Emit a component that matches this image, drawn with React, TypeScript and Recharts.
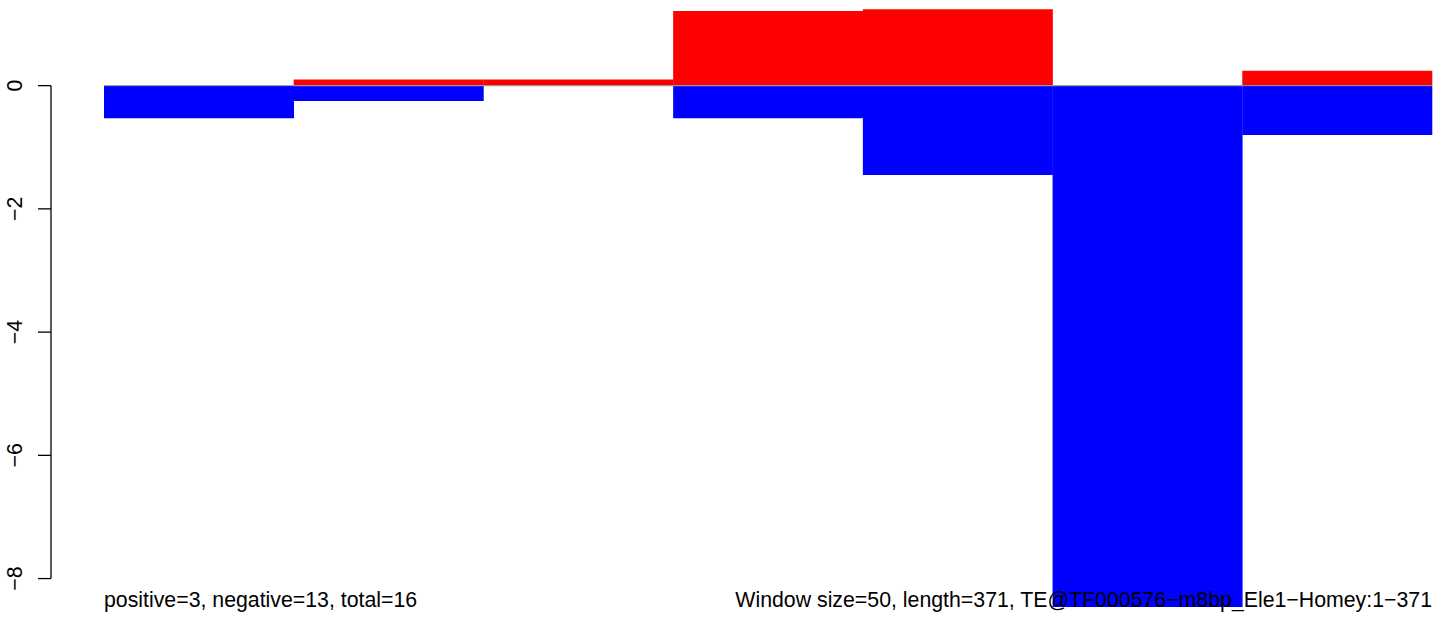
import { BarChart, Bar, XAxis, YAxis, ReferenceLine } from 'recharts';

const categories = ['1', '2', '3', '4', '5', '6', '7'];
const positive = [0, 0.1, 0.1, 1.21, 1.24, 0, 0.24];
const negative = [-0.53, -0.25, 0, -0.53, -1.45, -8.46, -0.8];
const yTicks = [-8, -6, -4, -2, 0];

const leftNote = 'positive=3, negative=13, total=16';
const rightNote = 'Window size=50, length=371, TE@TF000576\u2212m8bp_Ele1\u2212Homey:1\u2212371';

const FONT = '"Liberation Sans", Arial, sans-serif';

const data = categories.map((name, i) => ({
  name,
  pos: positive[i],
  neg: negative[i],
}));

const first = categories[0];
const last = categories[categories.length - 1];
const fmt = (v: number) => String(v).replace('-', '\u2212');

function YTick({ x, y, payload }: any) {
  const tx = x - 14;
  return (
    <text
      x={tx}
      y={y}
      transform={`rotate(-90, ${tx}, ${y})`}
      textAnchor="middle"
      fontSize={21.3}
      fontFamily={FONT}
      fill="#000"
    >
      {fmt(payload.value)}
    </text>
  );
}

export default function App() {
  return (
    <div style={{ position: 'absolute', left: 0, top: 0, width: 1450, height: 618, background: '#fff' }}>
      <BarChart
        width={1450}
        height={618}
        data={data}
        margin={{ top: 0, right: 0, bottom: 0, left: 0 }}
        stackOffset="sign"
        barCategoryGap={0}
        barGap={0}
      >
        <XAxis dataKey="name" hide padding={{ left: 53, right: 18 }} />
        {/* index axis without padding: 0 sits on the plot's left edge, where R puts the y axis */}
        <XAxis xAxisId="edge" type="number" hide />
        <YAxis
          domain={[-8.64, 1.39]}
          ticks={yTicks}
          allowDataOverflow
          width={51}
          axisLine={false}
          tickSize={13}
          tickLine={{ stroke: '#000', strokeWidth: 1.3 }}
          tick={<YTick />}
        />
        <Bar dataKey="pos" stackId="s" fill="#FF0000" isAnimationActive={false} />
        <Bar dataKey="neg" stackId="s" fill="#0000FF" isAnimationActive={false} />
        <ReferenceLine
          segment={[{ x: first, y: 0 }, { x: last, y: 0 }]}
          position="start"
          stroke="#999"
          strokeWidth={1}
          ifOverflow="visible"
        />
        <ReferenceLine
          segment={[{ x: first, y: 0 }, { x: last, y: 0 }]}
          position="end"
          stroke="#999"
          strokeWidth={1}
          ifOverflow="visible"
        />
        <ReferenceLine
          xAxisId="edge"
          segment={[{ x: 0, y: yTicks[yTicks.length - 1] }, { x: 0, y: yTicks[0] }]}
          stroke="#000"
          strokeWidth={1.3}
          ifOverflow="visible"
        />
      </BarChart>
      <svg
        width={1450}
        height={618}
        style={{ position: 'absolute', left: 0, top: 0, pointerEvents: 'none' }}
      >
        <text x={104} y={607} fontSize={21.3} fontFamily={FONT} fill="#000">
          {leftNote}
        </text>
        <text x={1432} y={607} fontSize={21.3} fontFamily={FONT} fill="#000" textAnchor="end">
          {rightNote}
        </text>
      </svg>
    </div>
  );
}
